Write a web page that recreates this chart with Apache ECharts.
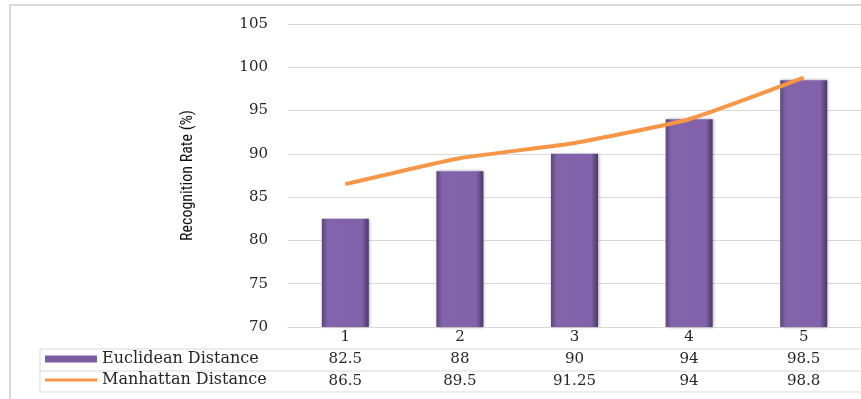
<!DOCTYPE html>
<html>
<head>
<meta charset="utf-8">
<script src="https://cdn.jsdelivr.net/npm/echarts@6/dist/echarts.min.js"></script>
<style>
html, body { margin: 0; padding: 0; background: #fff; }
#main { width: 861px; height: 399px; }
</style>
</head>
<body>
<div id="main"></div>
<script>
// data
var categories = ['1', '2', '3', '4', '5'];
var euclidean = [82.5, 88, 90, 94, 98.5];
var manhattan = [86.5, 89.5, 91.25, 94, 98.8];
var yMin = 70, yMax = 105, yStep = 5;

var serif = "'DejaVu Serif', 'Liberation Serif', serif";
var gridColor = '#d9d9d9';
var textColor = '#262626';

var myChart = echarts.init(document.getElementById('main'));

// bars with a beveled look
var barFill = new echarts.graphic.LinearGradient(0, 0, 1, 0, [
  { offset: 0, color: '#5a4678' },
  { offset: 0.12, color: '#8264ab' },
  { offset: 0.85, color: '#8262aa' },
  { offset: 1, color: '#4a3965' }
]);

function tableAxis(values, offset) {
  return {
    type: 'category',
    gridIndex: 0,
    position: 'bottom',
    offset: offset,
    data: values.map(function (v) { return String(v); }),
    axisLine: { show: false },
    axisTick: { show: false },
    axisLabel: { margin: 3, color: textColor, fontFamily: serif, fontSize: 15 }
  };
}

function legendRow(name, top, h, color) {
  return {
    orient: 'vertical',
    left: 45,
    top: top,
    padding: 0,
    itemWidth: 52,
    itemHeight: h,
    textStyle: { color: textColor, fontFamily: serif, fontSize: 16 },
    data: [{ name: name, icon: 'rect', itemStyle: { color: color } }]
  };
}

var option = {
  animation: false,
  grid: { left: 288, top: 24, bottom: 72, width: 585 },
  legend: [
    legendRow('Euclidean Distance', 351, 7, '#7a5ca3'),
    legendRow('Manhattan Distance', 372, 3, '#f79646')
  ],
  xAxis: [
    {
      type: 'category',
      data: categories,
      axisLine: { lineStyle: { color: gridColor } },
      axisTick: { length: 65, lineStyle: { color: gridColor } },
      axisLabel: { margin: 3, color: textColor, fontFamily: serif, fontSize: 15 }
    },
    tableAxis(euclidean, 22),
    tableAxis(manhattan, 44)
  ],
  yAxis: {
    type: 'value',
    min: yMin,
    max: yMax,
    interval: yStep,
    name: 'Recognition Rate (%)',
    nameLocation: 'middle',
    nameGap: 92,
    nameTextStyle: {
      color: '#111',
      fontSize: 16,
      fontFamily: "'Liberation Sans Narrow', 'Roboto Condensed', 'DejaVu Sans Condensed', sans-serif"
    },
    axisLine: { show: false },
    axisTick: { show: false },
    axisLabel: { margin: 20, color: textColor, fontFamily: serif, fontSize: 15 },
    splitLine: { lineStyle: { color: gridColor } }
  },
  series: [
    {
      name: 'Euclidean Distance',
      type: 'bar',
      barWidth: 47,
      data: euclidean,
      itemStyle: {
        color: barFill,
        shadowColor: 'rgba(0,0,0,0.35)',
        shadowBlur: 3,
        shadowOffsetX: 1
      }
    },
    {
      name: 'Manhattan Distance',
      type: 'line',
      smooth: 0.15,
      symbol: 'none',
      data: manhattan,
      z: 5,
      lineStyle: { color: '#f79646', width: 4 },
      itemStyle: { color: '#f79646' }
    }
  ],
  graphic: [
    // chart frame
    { type: 'rect', shape: { x: 10, y: 5, width: 900, height: 450 },
      style: { fill: 'none', stroke: gridColor, lineWidth: 2 }, z: -1 },
    // table borders
    { type: 'line', shape: { x1: 40, y1: 349, x2: 874, y2: 349 }, style: { stroke: gridColor } },
    { type: 'line', shape: { x1: 40, y1: 371, x2: 874, y2: 371 }, style: { stroke: gridColor } },
    { type: 'line', shape: { x1: 40, y1: 392, x2: 874, y2: 392 }, style: { stroke: gridColor } },
    { type: 'line', shape: { x1: 40, y1: 349, x2: 40, y2: 392 }, style: { stroke: gridColor } }
  ]
};

myChart.setOption(option);
</script>
</body>
</html>
